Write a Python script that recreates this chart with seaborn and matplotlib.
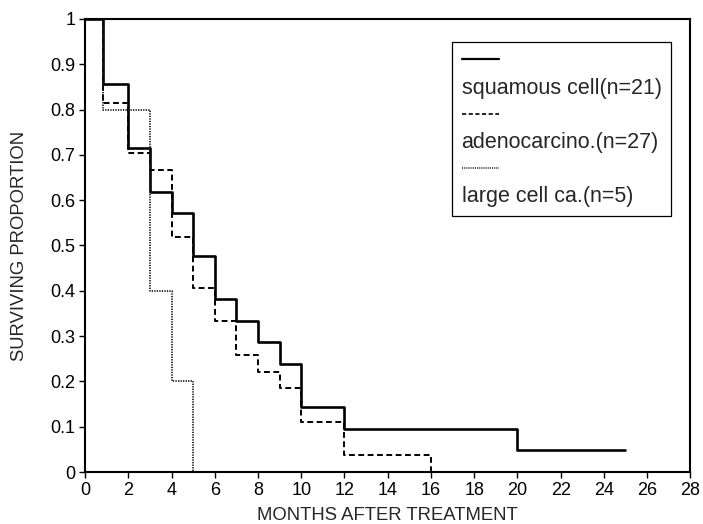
import matplotlib
matplotlib.use("Agg")
import matplotlib.pyplot as plt
import seaborn as sns
import pandas as pd
from matplotlib.lines import Line2D

# Data (Kaplan-Meier style step curves)
sq_months = [0, 0.85, 2, 3, 4, 5, 6, 7, 8, 9, 10, 12, 20, 25]
sq_surv = [1, 0.857, 0.714, 0.619, 0.571, 0.476, 0.381, 0.333, 0.286, 0.238, 0.143, 0.095, 0.048, 0.048]

ad_months = [0, 0.85, 2, 3, 4, 5, 6, 7, 8, 9, 10, 12, 16]
ad_surv = [1, 0.815, 0.704, 0.667, 0.519, 0.407, 0.333, 0.259, 0.222, 0.185, 0.111, 0.037, 0]

lg_months = [0, 0.85, 3, 4, 5]
lg_surv = [1, 0.8, 0.4, 0.2, 0]

labels = ["squamous cell(n=21)", "adenocarcino.(n=27)", "large cell ca.(n=5)"]
x_ticks = list(range(0, 29, 2))
y_ticks = [0, 0.1, 0.2, 0.3, 0.4, 0.5, 0.6, 0.7, 0.8, 0.9, 1]
y_tick_labels = ["0", "0.1", "0.2", "0.3", "0.4", "0.5", "0.6", "0.7", "0.8", "0.9", "1"]

sns.set_theme(style="ticks")
plt.rcParams["font.family"] = ["Liberation Sans", "DejaVu Sans"]

fig = plt.figure(figsize=(7.03, 5.24), dpi=100)
ax = fig.add_axes([0.121, 0.099, 0.861, 0.865])

df_sq = pd.DataFrame({"m": sq_months, "s": sq_surv})
df_ad = pd.DataFrame({"m": ad_months, "s": ad_surv})
df_lg = pd.DataFrame({"m": lg_months, "s": lg_surv})

sns.lineplot(data=df_sq, x="m", y="s", ax=ax, color="black", linewidth=1.9,
             drawstyle="steps-post", estimator=None, sort=False)
sns.lineplot(data=df_ad, x="m", y="s", ax=ax, color="black", linewidth=1.4,
             linestyle=(0, (3.0, 1.8)), drawstyle="steps-post", estimator=None, sort=False)
sns.lineplot(data=df_lg, x="m", y="s", ax=ax, color="#1a1a1a", linewidth=1.3,
             linestyle=(0, (0.7, 0.7)), drawstyle="steps-post", estimator=None, sort=False)

ax.set_xlim(0, 28)
ax.set_ylim(0, 1)
ax.set_xticks(x_ticks)
ax.set_xticklabels([str(t) for t in x_ticks])
ax.set_yticks(y_ticks)
ax.set_yticklabels(y_tick_labels)
ax.tick_params(axis="both", direction="out", length=4, width=1, labelsize=13, pad=3, colors="black")
for side in ["left", "bottom", "right", "top"]:
    ax.spines[side].set_visible(True)
    ax.spines[side].set_linewidth(1.5)
    ax.spines[side].set_color("black")
ax.set_xlabel("MONTHS AFTER TREATMENT", fontsize=13.3, labelpad=6)
ax.set_ylabel("SURVIVING PROPORTION", fontsize=13.3, labelpad=16)

blank = Line2D([], [], color="none")
h_sq = Line2D([], [], color="black", linewidth=1.6)
h_ad = Line2D([], [], color="black", linewidth=1.2, linestyle=(0, (2.5, 1.5)))
h_lg = Line2D([], [], color="#1a1a1a", linewidth=1.1, linestyle=(0, (0.7, 0.7)))
leg = ax.legend([h_sq, blank, h_ad, blank, h_lg, blank],
                ["", labels[0], "", labels[1], "", labels[2]],
                loc="upper left", bbox_to_anchor=(0.607, 0.949), borderaxespad=0,
                fontsize=15.5, handlelength=1.75, handletextpad=-1.75,
                labelspacing=0.28, borderpad=0.42, frameon=True, fancybox=False,
                edgecolor="black", framealpha=1)
leg.get_frame().set_linewidth(0.9)

fig.savefig("out.png", dpi=100)
